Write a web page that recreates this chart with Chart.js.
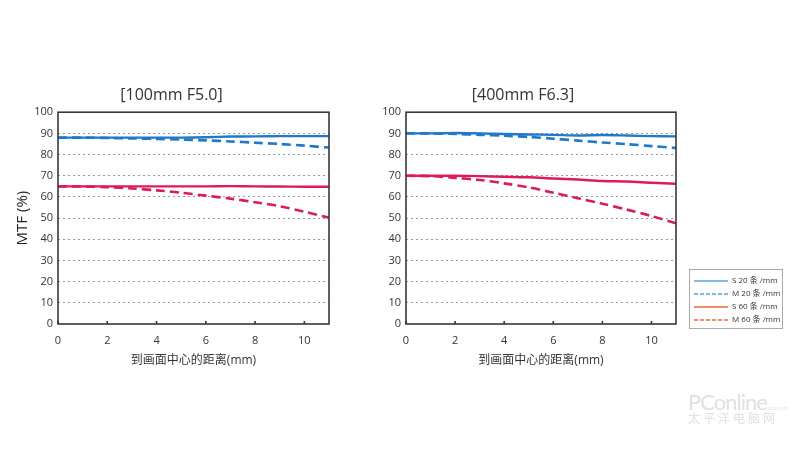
<!DOCTYPE html>
<html>
<head>
<meta charset="utf-8">
<script src="https://cdn.jsdelivr.net/npm/chart.js@4.4.0/dist/chart.umd.min.js"></script>
<style>
  body { margin: 0; background: #fff; width: 800px; height: 450px; position: relative; overflow: hidden;
         font-family: "Open Sans", "Noto Sans CJK SC", sans-serif; }
  .box { position: absolute; }
  #legend { position: absolute; left: 689px; top: 269px; width: 92px; height: 58px; border: 1px solid #aaa;
            font-size: 8px; color: #333; }
  #legend .row { position: absolute; left: 4px; height: 12px; line-height: 12px; }
  #legend svg { vertical-align: middle; }
  #wm { position: absolute; left: 688px; top: 388px; color: #e0e0e0; }
</style>
</head>
<body>
<div class="box" style="left:0;top:70px;width:340px;height:298px"><canvas id="c1"></canvas></div>
<div class="box" style="left:370px;top:70px;width:320px;height:298px"><canvas id="c2"></canvas></div>
<div id="legend"></div>
<div id="wm"><div style="font-size:22px;font-family:Lato,sans-serif;letter-spacing:-1px">PConline<span style="font-size:6px;letter-spacing:0">.com.cn</span></div>
<div style="font-size:12px;margin-top:-6px;letter-spacing:3px;font-family:'Noto Sans CJK SC'">太平洋电脑网</div></div>
<script>
// 到画面中心的距离 (mm)
var xs = [0, 1, 2, 3, 4, 5, 6, 7, 8, 9, 10, 11];

// [100mm F5.0]
var wideS20 = [88, 88, 88, 88, 88, 88, 88.2, 88.5, 88.6, 88.7, 88.7, 88.7];
var wideM20 = [88, 88, 87.8, 87.6, 87.4, 87.1, 86.7, 86.2, 85.6, 85, 84.2, 83.3];
var wideS60 = [65, 65, 65, 65, 65, 65, 65, 65.1, 65, 64.9, 64.8, 64.8];
var wideM60 = [65, 64.9, 64.6, 64, 63.1, 62, 60.6, 59.2, 57.5, 55.6, 53, 50.2];

// [400mm F6.3]
var teleS20 = [90, 90, 90.2, 90, 89.7, 89.5, 89.3, 89, 89.2, 89, 88.7, 88.6];
var teleM20 = [90, 90, 89.7, 89.3, 88.9, 88.3, 87.5, 86.6, 85.7, 84.9, 84, 83.1];
var teleS60 = [70, 70, 70, 69.8, 69.5, 69.3, 68.7, 68.2, 67.5, 67.3, 66.7, 66.2];
var teleM60 = [70, 69.8, 69, 68, 66.4, 64.5, 62, 59.4, 56.8, 54, 51, 47.5];

var xTicks = [0, 2, 4, 6, 8, 10];
var yTicks = [0, 10, 20, 30, 40, 50, 60, 70, 80, 90, 100];
var xTitle = '到画面中心的距离(mm)';
var seriesNames = ['S 20 条 /mm', 'M 20 条 /mm', 'S 60 条 /mm', 'M 60 条 /mm'];

var blue = '#1f78c9';
var red = '#dd1b5c';
var font = '"Open Sans", "Noto Sans CJK SC", sans-serif';

function pts(ys) {
  return xs.map(function (x, i) { return { x: x, y: ys[i] }; });
}

function ds(ys, color, dashed) {
  return {
    data: pts(ys),
    borderColor: color,
    borderWidth: dashed ? 2.6 : 2.4,
    borderDash: dashed ? [9, 5] : [],
    pointRadius: 0,
    tension: 0.3,
    fill: false
  };
}

function makeChart(id, title, s20, m20, s60, m60, yAxisWidth, padLeft, padRight, showYTitle) {
  return new Chart(document.getElementById(id), {
    type: 'line',
    data: {
      datasets: [ds(s20, blue, false), ds(m20, blue, true), ds(s60, red, false), ds(m60, red, true)]
    },
    options: {
      responsive: true,
      maintainAspectRatio: false,
      animation: false,
      layout: { padding: { top: 6, right: padRight, bottom: 0, left: padLeft } },
      plugins: {
        legend: { display: false },
        tooltip: { enabled: false },
        title: {
          display: true,
          text: title,
          color: '#333',
          font: { family: font, size: 16, weight: 'normal' },
          padding: { top: 10, bottom: 7 }
        }
      },
      scales: {
        x: {
          type: 'linear',
          min: 0,
          max: 11,
          afterBuildTicks: function (scale) {
            scale.ticks = xTicks.map(function (v) { return { value: v }; });
          },
          ticks: { color: '#333', font: { family: font, size: 11 }, padding: 10 },
          grid: { display: false, drawTicks: false },
          border: { display: false },
          title: { display: true, text: xTitle, color: '#333',
                   font: { family: font, size: 12 }, padding: { top: 2, bottom: 0 } },
          afterFit: function (scale) { scale.height = 44; }
        },
        y: {
          min: 0,
          max: 100,
          afterBuildTicks: function (scale) {
            scale.ticks = yTicks.map(function (v) { return { value: v }; });
          },
          ticks: { color: '#333', font: { family: font, size: 11 }, padding: 5 },
          grid: {
            drawTicks: false,
            color: function (ctx) {
              return (ctx.tick && (ctx.tick.value === 0 || ctx.tick.value === 100)) ? 'rgba(0,0,0,0)' : '#999';
            },
            lineWidth: 1
          },
          border: { display: false, dash: [2, 3] },
          title: { display: showYTitle, text: 'MTF (%)', color: '#222',
                   font: { family: font, size: 15 }, padding: { top: 0, bottom: 4 } },
          afterFit: function (scale) { scale.width = yAxisWidth; }
        }
      }
    },
    plugins: [{
      id: 'frame',
      afterDraw: function (chart) {
        var a = chart.chartArea, c = chart.ctx, sx = chart.scales.x;
        c.save();
        c.strokeStyle = '#3d3535';
        c.lineWidth = 1.6;
        c.strokeRect(a.left, a.top, a.right - a.left, a.bottom - a.top);
        c.beginPath();
        xTicks.forEach(function (v) {
          var px = sx.getPixelForValue(v);
          c.moveTo(px, a.bottom);
          c.lineTo(px, a.bottom - 3);
        });
        c.stroke();
        c.restore();
      }
    }]
  });
}

makeChart('c1', '[100mm F5.0]', wideS20, wideM20, wideS60, wideM60, 44, 14, 11, true);
makeChart('c2', '[400mm F6.3]', teleS20, teleM20, teleS60, teleM60, 36, 0, 14, false);

// legend
var legColors = ['#5aa2da', '#5aa2da', '#f0643c', '#f0643c'];
var legDash = [false, true, false, true];
var leg = document.getElementById('legend');
seriesNames.forEach(function (name, i) {
  var row = document.createElement('div');
  row.className = 'row';
  row.style.top = (4 + i * 13) + 'px';
  row.innerHTML = '<svg width="36" height="6"><line x1="0" y1="3" x2="34" y2="3" stroke="' + legColors[i] +
    '" stroke-width="1.3"' + (legDash[i] ? ' stroke-dasharray="4,2"' : '') + '/></svg> ' + name;
  leg.appendChild(row);
});
</script>
</body>
</html>
